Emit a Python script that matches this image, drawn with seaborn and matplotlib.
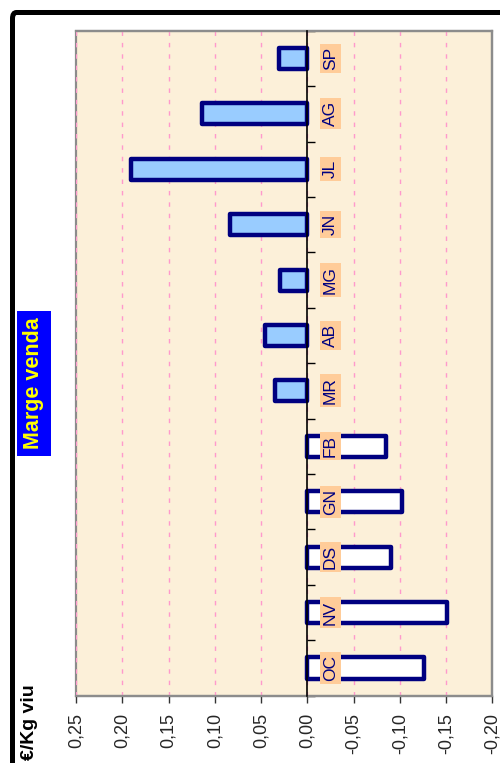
import numpy as np
import pandas as pd
import matplotlib
matplotlib.use("Agg")
import matplotlib.pyplot as plt
import seaborn as sns
from matplotlib.patches import FancyBboxPatch

# ---- data ----
months = ["OC", "NV", "DS", "GN", "FB", "MR", "AB", "MG", "JN", "JL", "AG", "SP"]
margin = [-0.126, -0.151, -0.091, -0.102, -0.085, 0.035, 0.046, 0.029, 0.084, 0.191, 0.114, 0.031]
value_ticks = [0.25, 0.20, 0.15, 0.10, 0.05, 0.00, -0.05, -0.10, -0.15, -0.20]
title = "Marge venda"
unit = "€/Kg viu"

sns.set_theme(style="white")
plt.rcParams["font.family"] = ["Liberation Sans", "DejaVu Sans"]

df = pd.DataFrame({"mes": months, "marge": margin})
palette = {m: ("#99CCFF" if v > 0 else "#FFFFFF") for m, v in zip(months, margin)}
order = months[::-1]  # seaborn puts first category at top

fig = plt.figure(figsize=(5, 7.63), dpi=100)
fig.patch.set_facecolor("white")
ax = fig.add_axes([0.152, 0.0882, 0.8326, 0.8716])
ax.set_facecolor("#FCF0D9")

sns.barplot(data=df, y="mes", x="marge", hue="mes", palette=palette,
            order=order, hue_order=months, orient="h", width=0.38,
            linewidth=3.2, edgecolor="#000080", dodge=False, legend=False,
            saturation=1, ax=ax)
for p in ax.patches:
    p.set_linewidth(3.2)
    p.set_edgecolor("#000080")
    p.set_joinstyle("round")
    p.set_zorder(3)

ax.set_xlabel("")
ax.set_ylabel("")
ax.set_xlim(value_ticks[0], value_ticks[-1])
ax.set_ylim(len(months) - 0.5, -0.5)

# x axis (value axis)
ax.set_xticks(value_ticks)
ax.set_xticklabels([f"{v:.2f}".replace(".", ",") for v in value_ticks])
ax.tick_params(axis="x", bottom=True, direction="out", length=5, width=1,
               color="#333333", pad=7.5, labelsize=13, labelrotation=90)

# category axis on the zero line
ax.spines["left"].set_position(("data", 0))
ax.spines["left"].set_color("black")
ax.spines["left"].set_linewidth(1.2)
ax.spines["left"].set_zorder(4)
ax.set_yticks(np.arange(-0.5, len(months), 1))
ax.set_yticklabels([])
ax.tick_params(axis="y", left=True, direction="in", length=6, width=1, color="black")

for s in ["top", "right", "bottom"]:
    ax.spines[s].set_color("#8C8C8C")
    ax.spines[s].set_linewidth(1.6)
ax.patch.set_edgecolor("#8C8C8C")
ax.patch.set_linewidth(1.6)

ax.grid(axis="x", color="#FF99CC", linestyle=(0, (3.2, 5)), linewidth=1)
ax.grid(axis="y", visible=False)
ax.set_axisbelow(True)

# category labels next to the zero axis
for m in months:
    pos = order.index(m)
    ax.annotate(m, xy=(0, pos), xytext=(16.5, 0), textcoords="offset points",
                ha="center", va="center", rotation=90, fontsize=12.5,
                color="#000080", zorder=6,
                bbox=dict(boxstyle="square,pad=0.18", fc="#FFCC99", ec="none"))

# title and unit
fig.text(34 / 500, 1 - 383.5 / 763, title, rotation=90, ha="center", va="center",
         fontsize=15.5, fontweight="bold", color="#FFFF00",
         bbox=dict(boxstyle="square,pad=0.32", fc="#0000FF", ec="none"))
fig.text(29 / 500, 1 - 684 / 763, unit, rotation=90, ha="center", va="top",
         fontsize=14, fontweight="bold", color="black")

# outer black border (top and left visible)
border = FancyBboxPatch((0.025, -0.5), 2.0, 0.98362 + 0.5,
                        boxstyle="round,pad=0,rounding_size=0.008",
                        transform=fig.transFigure, fill=False,
                        linewidth=3.6, edgecolor="black")
fig.add_artist(border)

fig.savefig("out.png", dpi=100)
